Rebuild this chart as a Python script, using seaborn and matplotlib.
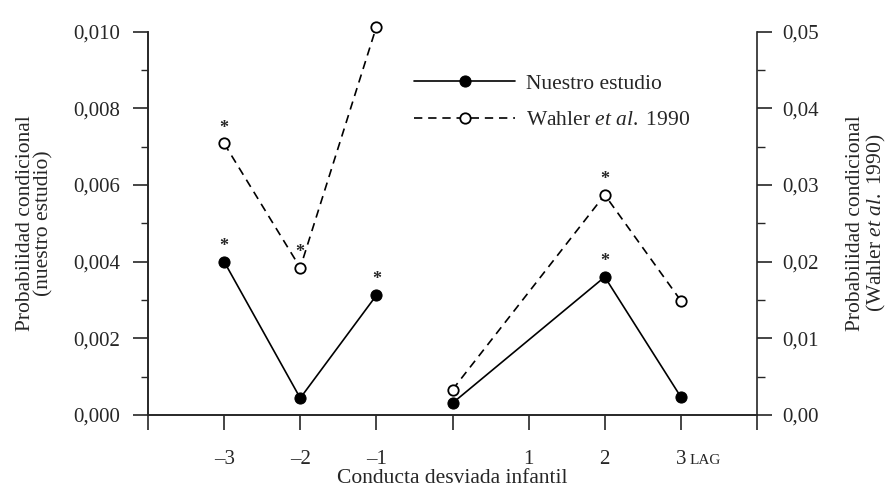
import matplotlib
matplotlib.use("Agg")
import matplotlib.pyplot as plt
import numpy as np
import pandas as pd
import seaborn as sns

# datos
lags = [-3, -2, -1, 0, 2, 3]
tramo = [0, 0, 0, 1, 1, 1]
nuestro = [0.0040, 0.00044, 0.00312, 0.00031, 0.0036, 0.00047]
wahler = [0.0354, 0.0192, 0.0506, 0.0033, 0.0287, 0.0149]
sig_nuestro = [True, False, True, False, True, False]
sig_wahler = [True, True, True, False, True, False]

xticks = [-4, -3, -2, -1, 0, 1, 2, 3, 4]
xlabels = ["", "\u20133", "\u20132", "\u20131", "", "1", "2", "3", ""]
yticks_izq = [0.000, 0.002, 0.004, 0.006, 0.008, 0.010]
yticks_der = [0.00, 0.01, 0.02, 0.03, 0.04, 0.05]

sns.set_style("ticks")
plt.rcParams["font.family"] = ["Liberation Serif", "DejaVu Serif"]
plt.rcParams["mathtext.fontset"] = "custom"
plt.rcParams["mathtext.rm"] = "Liberation Serif"
plt.rcParams["mathtext.it"] = "Liberation Serif:italic"

df1 = pd.DataFrame({"lag": lags, "p": nuestro, "tramo": tramo})
df2 = pd.DataFrame({"lag": lags, "p": wahler, "tramo": tramo})

fs = 15.5

fig = plt.figure(figsize=(8.92, 4.88), dpi=100)
ax = fig.add_axes([148 / 892, (488 - 415) / 488, (757 - 148) / 892, (415 - 31.5) / 488])
ax2 = ax.twinx()

sns.lineplot(data=df1, x="lag", y="p", units="tramo", estimator=None, ax=ax,
             color="black", lw=1.2, marker="o", markersize=8,
             markerfacecolor="black", markeredgecolor="black",
             clip_on=False, zorder=3)
sns.lineplot(data=df2, x="lag", y="p", units="tramo", estimator=None, ax=ax2,
             color="black", lw=1.2, linestyle=(0, (5, 3.5)), marker="o",
             markersize=7.5, markerfacecolor="white", markeredgecolor="black",
             markeredgewidth=1.3, clip_on=False, zorder=3)

for x, y, s in zip(lags, nuestro, sig_nuestro):
    if s:
        ax.annotate("*", (x, y), xytext=(0, 5), textcoords="offset points",
                    ha="center", va="bottom", fontsize=13, fontweight="bold")
for x, y, s in zip(lags, wahler, sig_wahler):
    if s:
        ax2.annotate("*", (x, y), xytext=(0, 5), textcoords="offset points",
                     ha="center", va="bottom", fontsize=13, fontweight="bold")

ax.set_xlim(-4, 4)
ax.set_ylim(0, 0.010)
ax2.set_ylim(0, 0.05)

ax.set_xticks(xticks)
ax.set_xticklabels(xlabels)
ax.set_yticks(yticks_izq)
ax.set_yticklabels([f"{v:.3f}".replace(".", ",") for v in yticks_izq])
ax.set_yticks(np.arange(0.001, 0.010, 0.002), minor=True)
ax2.set_yticks(yticks_der)
ax2.set_yticklabels([f"{v:.2f}".replace(".", ",") for v in yticks_der])
ax2.set_yticks(np.arange(0.005, 0.05, 0.01), minor=True)

ax.tick_params(axis="y", which="major", length=11, width=1.2, pad=9, labelsize=15)
ax.tick_params(axis="y", which="minor", length=5, width=1.0)
ax.tick_params(axis="x", which="major", length=11, width=1.2, pad=14, labelsize=15)
ax2.tick_params(axis="y", which="major", length=11, width=1.2, pad=7, labelsize=15)
ax2.tick_params(axis="y", which="minor", length=6, width=1.0)

# "LAG" en versalitas junto al 3
ax.annotate("LAG", (3, 0), xycoords=("data", "axes fraction"), xytext=(6.5, -35),
            textcoords="offset points", ha="left", va="baseline", fontsize=11)

for a in (ax, ax2):
    a.spines["top"].set_visible(False)
    for s in a.spines.values():
        s.set_linewidth(1.2)
ax.spines["right"].set_visible(False)

ax.set_xlabel("Conducta desviada infantil", fontsize=fs, labelpad=0)
ax.set_ylabel("Probabilidad condicional\n(nuestro estudio)", fontsize=fs, labelpad=14,
              linespacing=1.0)
ax2.set_ylabel("Probabilidad condicional\n(Wahler $\\it{et\\ al.}$ 1990)", fontsize=fs,
               labelpad=20, linespacing=0.95)

h1 = ax.get_lines()[0]
h2 = ax2.get_lines()[0]
ax2.legend([h1, h2], ["Nuestro estudio", "Wahler $\\it{et\\ al.}$ 1990"],
           loc="upper left", bbox_to_anchor=(0.405, 0.94), frameon=False,
           handlelength=4.7, numpoints=1, fontsize=fs, labelspacing=0.75,
           handletextpad=0.5)

fig.savefig("out.png", dpi=100)
